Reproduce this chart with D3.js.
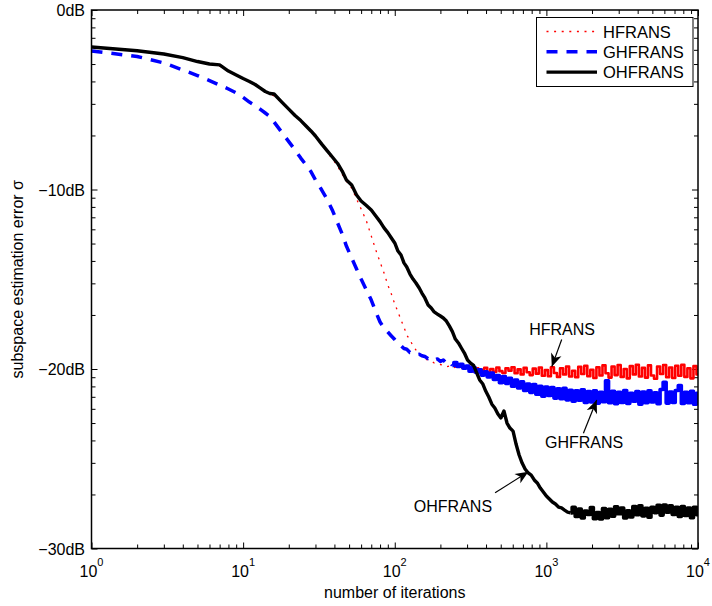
<!DOCTYPE html>
<html>
<head>
<meta charset="utf-8">
<script src="https://cdn.jsdelivr.net/npm/d3@7"></script>
<style>
  body { margin: 0; background: #fff; }
  svg { display: block; font-family: "Liberation Sans", Arial, Helvetica, sans-serif; }
</style>
</head>
<body>
<svg id="chart" width="712" height="606"></svg>
<script>
// Iteration grid shared by all three curves
const iterations = [
  1, 2, 3, 4, 5, 6, 7, 8, 9, 10, 11, 12, 13, 14, 15, 16, 18, 20, 22, 24, 26, 28, 30, 33, 36, 39, 42, 45, 48, 52, 56, 60, 65, 70, 75, 80, 85, 90, 95,
  100, 105, 110, 115, 120, 126, 132, 138, 145, 151, 158, 166, 174, 182, 191, 200, 209, 219, 229, 240, 251, 263, 275, 288, 302, 316, 331, 347, 363, 380,
  398, 417, 437, 457, 479, 501, 525, 550, 575, 603, 631, 661, 692, 724, 759, 794, 832, 871, 912, 955,
  1000, 1047, 1096, 1148, 1202, 1259, 1318, 1380, 1445, 1514, 1585, 1660, 1738, 1820, 1905, 1995, 2089, 2188, 2291, 2399,
  2512, 2630, 2754, 2884, 3020, 3162, 3311, 3467, 3631, 3802, 3981, 4169, 4365, 4571, 4786, 5012, 5248, 5495, 5754, 6026,
  6310, 6607, 6918, 7244, 7586, 7943, 8318, 8710, 9120, 9550, 10000
];

// Subspace estimation error in dB for each algorithm
const hfrans = [
  -2.06, -2.27, -2.45, -2.66, -2.88, -3.03, -3.12, -3.42, -3.64, -3.84, -4.00, -4.17, -4.37, -4.56, -4.70, -4.78, -5.16, -5.54, -5.90, -6.18,
  -6.48, -6.77, -7.06, -7.52, -7.94, -8.32, -8.70, -9.15, -9.53, -9.92, -10.53, -11.09, -11.75, -12.59, -13.37, -14.04, -14.65, -15.32, -15.82,
  -16.38, -16.82, -17.27, -17.66, -18.11, -18.38, -18.72, -18.94, -19.11, -19.28, -19.44, -19.50, -19.55, -19.67, -19.72, -19.75,
  -19.80, -19.88, -19.84, -19.95, -19.90, -20.00, -19.93, -20.05, -19.97,
  -20.02, -20.14, -19.96, -20.18, -20.04, -19.94, -20.20, -20.00, -20.16, -19.92,
  -20.12, -20.22, -19.96, -20.10, -19.90, -20.24, -20.02, -20.30, -19.94, -20.18,
  -20.34, -19.98, -20.26, -19.92, -20.38, -20.06, -20.40, -19.90, -20.22, -20.44,
  -19.96, -20.30, -19.86, -20.42, -20.10, -20.46, -19.88, -20.28, -19.82, -20.40,
  -20.04, -20.50, -19.90, -20.36, -19.80, -20.24, -20.48, -19.86, -20.34, -19.78,
  -20.44, -20.00, -20.52, -19.84, -20.30, -19.76, -20.42, -19.94, -20.48, -19.80,
  -20.36, -20.54, -19.86, -20.28, -19.78, -20.46, -19.92, -20.50, -19.82, -20.38,
  -19.76, -20.44, -19.96, -20.52, -19.84, -20.30
];

const ghfrans = [
  -2.28, -2.59, -2.95, -3.34, -3.65, -3.93, -4.18, -4.40, -4.62, -4.87, -5.13, -5.32, -5.54, -5.74, -5.93, -6.24, -6.82, -7.33, -7.80, -8.25,
  -8.64, -9.00, -9.47, -10.03, -10.58, -11.20, -11.87, -12.48, -13.15, -13.82, -14.43, -14.99, -15.60, -16.16, -16.82, -17.38, -17.72, -17.94, -18.16,
  -18.36, -18.58, -18.70, -18.86, -18.90, -19.08, -19.08, -19.20, -19.18, -19.26,
  -19.30, -19.42, -19.36, -19.50, -19.44, -19.58, -19.50, -19.68, -19.58,
  -19.80, -19.64, -19.86, -19.74, -19.96, -19.84, -20.12, -19.92, -20.18, -20.04,
  -20.34, -20.16, -20.44, -20.22, -20.58, -20.36, -20.76, -20.42, -20.80, -20.52,
  -20.96, -20.62, -21.06, -20.72, -21.20, -20.84, -21.30, -20.86, -21.40, -20.96,
  -21.52, -21.00, -21.48, -21.04, -21.62, -21.10, -21.66, -21.08, -21.72, -21.18,
  -21.80, -21.22, -21.74, -21.16, -21.86, -21.26, -21.84, -21.22, -21.90, -21.30,
  -21.82, -20.66, -21.88, -21.24, -21.94, -21.30, -21.86, -21.20, -21.92, -21.36,
  -21.80, -21.26, -21.96, -21.28, -21.88, -21.22, -21.84, -21.32, -21.94, -21.14,
  -20.74, -21.90, -21.28, -21.86, -21.20, -20.92, -21.92, -21.30, -21.88, -21.24,
  -21.96, -21.36
];

const ohfrans = [
  -2.06, -2.27, -2.45, -2.65, -2.87, -3.01, -3.06, -3.40, -3.62, -3.82, -3.98, -4.15, -4.35, -4.54, -4.65, -4.68, -5.13, -5.52, -5.88, -6.16,
  -6.46, -6.74, -7.02, -7.47, -7.86, -8.22, -8.55, -8.97, -9.47, -9.75, -10.31, -10.64, -10.89, -11.14, -11.48, -11.79, -12.14, -12.40, -12.70,
  -12.98, -13.43, -13.65, -14.09, -14.32, -14.71, -14.99, -15.21, -15.49, -15.77, -16.04, -16.43, -16.60, -16.82, -16.94, -17.05, -17.16, -17.33, -17.60, -17.92,
  -18.33, -18.55, -18.83, -19.11, -19.50, -19.67, -19.80, -20.22, -20.61, -20.82, -21.23, -21.56, -21.96, -22.17, -22.51, -22.73, -22.34, -23.01, -23.29, -23.46,
  -24.18, -24.79, -25.24, -25.57, -25.79, -25.91, -26.18, -26.35, -26.63, -26.85, -27.08, -27.24, -27.41, -27.52, -27.69, -27.74, -27.86, -27.97, -28.02,
  -27.70, -28.22, -27.80, -28.30, -27.92, -28.10, -27.72, -28.34, -28.00, -28.36,
  -27.78, -28.28, -27.82, -28.20, -27.68, -28.06, -27.74, -28.30, -27.90, -28.24,
  -27.66, -28.12, -27.62, -28.18, -27.76, -28.26, -27.70, -28.00, -27.60, -28.14,
  -27.58, -27.98, -27.62, -28.10, -27.70, -28.22, -27.66, -28.16, -27.74, -28.28,
  -27.70, -28.12
];

const seriesNames = ["HFRANS", "GHFRANS", "OHFRANS"];
// iteration from which each curve settles into its noisy steady-state band
const steadyFrom = [316, 240, 1445];
const xMajorTicks = [1, 10, 100, 1000, 10000];
const xExponents = ["0", "1", "2", "3", "4"];
const yMajorTicks = [0, -10, -20, -30];
const yTickLabels = ["0dB", "\u221210dB", "\u221220dB", "\u221230dB"];

// Callouts: text anchor, arrow tail and arrow tip in (iterations, dB)
const callouts = [
  { label: "HFRANS",  text: [1270, -18.11], from: [1262, -18.36], to: [1086, -19.87] },
  { label: "GHFRANS", text: [1773, -24.40], from: [1755, -23.58], to: [2148, -21.73] },
  { label: "OHFRANS", text: [242, -27.97],  from: [459, -26.90],  to: [761, -25.72] }
];

// ---- drawing ----
const svg = d3.select("#chart");
const pLeft = 91.5, pRight = 698, pTop = 10, pBottom = 548.5;
const x = d3.scaleLog().domain([1, 10000]).range([pLeft, pRight]);
const y = d3.scaleLinear().domain([-30, 0]).range([pBottom, pTop]);

const styles = {
  HFRANS:  { color: "#ff0000", width: 1.3, bandWidth: 2.6, dash: "2,5.6" },
  GHFRANS: { color: "#0000ff", width: 3.5, bandWidth: 3.6, dash: "11,9" },
  OHFRANS: { color: "#000000", width: 3.4, bandWidth: 3.6, dash: null }
};
const seriesData = { HFRANS: hfrans, GHFRANS: ghfrans, OHFRANS: ohfrans };

svg.append("defs").append("clipPath").attr("id", "plotClip")
  .append("rect").attr("x", pLeft).attr("y", pTop).attr("width", pRight - pLeft).attr("height", pBottom - pTop);

// minor tick values
const xMinor = [];
xMajorTicks.slice(0, -1).forEach(d => { for (let m = 2; m <= 9; m++) xMinor.push(d * m); });
const yMinor = [];
yMajorTicks.slice(0, -1).forEach(d => { for (let m = 2; m <= 9; m++) yMinor.push(d + 10 * Math.log10(m / 10)); });

const axisG = svg.append("g").attr("class", "axes");
function styleAxis(g) {
  g.select(".domain").remove();
  g.selectAll(".tick line").attr("stroke", "#000").attr("stroke-width", 1);
  g.selectAll(".tick text").remove();
}
axisG.append("g").attr("transform", `translate(0,${pBottom})`)
  .call(d3.axisBottom(x).tickValues(xMajorTicks).tickSizeInner(-6).tickSizeOuter(0)).call(styleAxis);
axisG.append("g").attr("transform", `translate(0,${pBottom})`)
  .call(d3.axisBottom(x).tickValues(xMinor).tickSizeInner(-4).tickSizeOuter(0)).call(styleAxis);
axisG.append("g").attr("transform", `translate(0,${pTop})`)
  .call(d3.axisTop(x).tickValues(xMajorTicks).tickSizeInner(-6).tickSizeOuter(0)).call(styleAxis);
axisG.append("g").attr("transform", `translate(0,${pTop})`)
  .call(d3.axisTop(x).tickValues(xMinor).tickSizeInner(-4).tickSizeOuter(0)).call(styleAxis);
axisG.append("g").attr("transform", `translate(${pLeft},0)`)
  .call(d3.axisLeft(y).tickValues(yMajorTicks).tickSizeInner(-6).tickSizeOuter(0)).call(styleAxis);
axisG.append("g").attr("transform", `translate(${pLeft},0)`)
  .call(d3.axisLeft(y).tickValues(yMinor).tickSizeInner(-4).tickSizeOuter(0)).call(styleAxis);
axisG.append("g").attr("transform", `translate(${pRight},0)`)
  .call(d3.axisRight(y).tickValues(yMajorTicks).tickSizeInner(-6).tickSizeOuter(0)).call(styleAxis);
axisG.append("g").attr("transform", `translate(${pRight},0)`)
  .call(d3.axisRight(y).tickValues(yMinor).tickSizeInner(-4).tickSizeOuter(0)).call(styleAxis);

// curves: transient part with the series' line style, steady-state noise as a dense band
const transientLine = d3.line().x(d => x(d[0])).y(d => y(d[1]));
const bandLine = d3.line().x(d => x(d[0])).y(d => y(d[1])).curve(d3.curveStep);
const plotG = svg.append("g").attr("clip-path", "url(#plotClip)");
seriesNames.forEach((name, k) => {
  const s = styles[name];
  const pts = seriesData[name].map((v, i) => [iterations[i], v]);
  const early = pts.filter(p => p[0] <= steadyFrom[k]);
  const late = pts.filter(p => p[0] >= steadyFrom[k]);
  const g = plotG.append("g");
  g.append("path").datum(early).attr("d", transientLine)
    .attr("fill", "none").attr("stroke", s.color).attr("stroke-width", s.width)
    .attr("stroke-linejoin", "round").attr("stroke-dasharray", s.dash);
  g.append("path").datum(late).attr("d", bandLine)
    .attr("fill", "none").attr("stroke", s.color).attr("stroke-width", s.bandWidth)
    .attr("stroke-linejoin", "round");
});

// frame
svg.append("rect").attr("x", pLeft).attr("y", pTop).attr("width", pRight - pLeft).attr("height", pBottom - pTop)
  .attr("fill", "none").attr("stroke", "#000").attr("stroke-width", 1.5);

// tick labels
const xl = svg.append("g").attr("font-size", 16).attr("fill", "#000");
xMajorTicks.forEach((d, i) => {
  const t = xl.append("text").attr("x", x(d)).attr("y", 577).attr("text-anchor", "middle");
  t.append("tspan").text("10");
  t.append("tspan").attr("font-size", 11).attr("dy", -11).text(xExponents[i]);
});
yMajorTicks.forEach((d, i) => {
  svg.append("text").attr("x", 85).attr("y", y(d) + 6).attr("text-anchor", "end")
    .attr("font-size", 16).text(yTickLabels[i]);
});

// axis titles
svg.append("text").attr("x", (pLeft + pRight) / 2).attr("y", 598).attr("text-anchor", "middle")
  .attr("font-size", 16).text("number of iterations");
svg.append("text").attr("transform", `translate(23,${(pTop + pBottom) / 2}) rotate(-90)`)
  .attr("text-anchor", "middle").attr("font-size", 16).text("subspace estimation error \u03c3");

// callouts with arrows
function arrowHead(x0, y0, x1, y1, len, half) {
  const a = Math.atan2(y1 - y0, x1 - x0);
  const c = Math.cos(a), s = Math.sin(a);
  const pt = (u, v) => [x1 + u * c - v * s, y1 + u * s + v * c];
  const p = [pt(0, 0), pt(-len, half), pt(-len * 0.72, 0), pt(-len, -half)];
  return "M" + p.map(q => q.join(",")).join("L") + "Z";
}
const cg = svg.append("g");
callouts.forEach(c => {
  const x0 = x(c.from[0]), y0 = y(c.from[1]), x1 = x(c.to[0]), y1 = y(c.to[1]);
  cg.append("line").attr("x1", x0).attr("y1", y0).attr("x2", x1).attr("y2", y1)
    .attr("stroke", "#000").attr("stroke-width", 1.2);
  cg.append("path").attr("d", arrowHead(x0, y0, x1, y1, 13, 5.5)).attr("fill", "#000");
  cg.append("text").attr("x", x(c.text[0])).attr("y", y(c.text[1])).attr("text-anchor", "middle")
    .attr("font-size", 16).text(c.label);
});

// legend
const lg = svg.append("g");
lg.append("rect").attr("x", 536.5).attr("y", 17.5).attr("width", 156.5).attr("height", 69)
  .attr("fill", "#fff").attr("stroke", "#000").attr("stroke-width", 1);
seriesNames.forEach((name, i) => {
  const s = styles[name];
  const cy = 31.5 + i * 20.3;
  lg.append("line").attr("x1", 546.5).attr("x2", 597).attr("y1", cy).attr("y2", cy)
    .attr("stroke", s.color).attr("stroke-width", s.width).attr("stroke-dasharray", s.dash);
  lg.append("text").attr("x", 603).attr("y", cy + 6).attr("font-size", 16.5).text(name);
});
</script>
</body>
</html>
